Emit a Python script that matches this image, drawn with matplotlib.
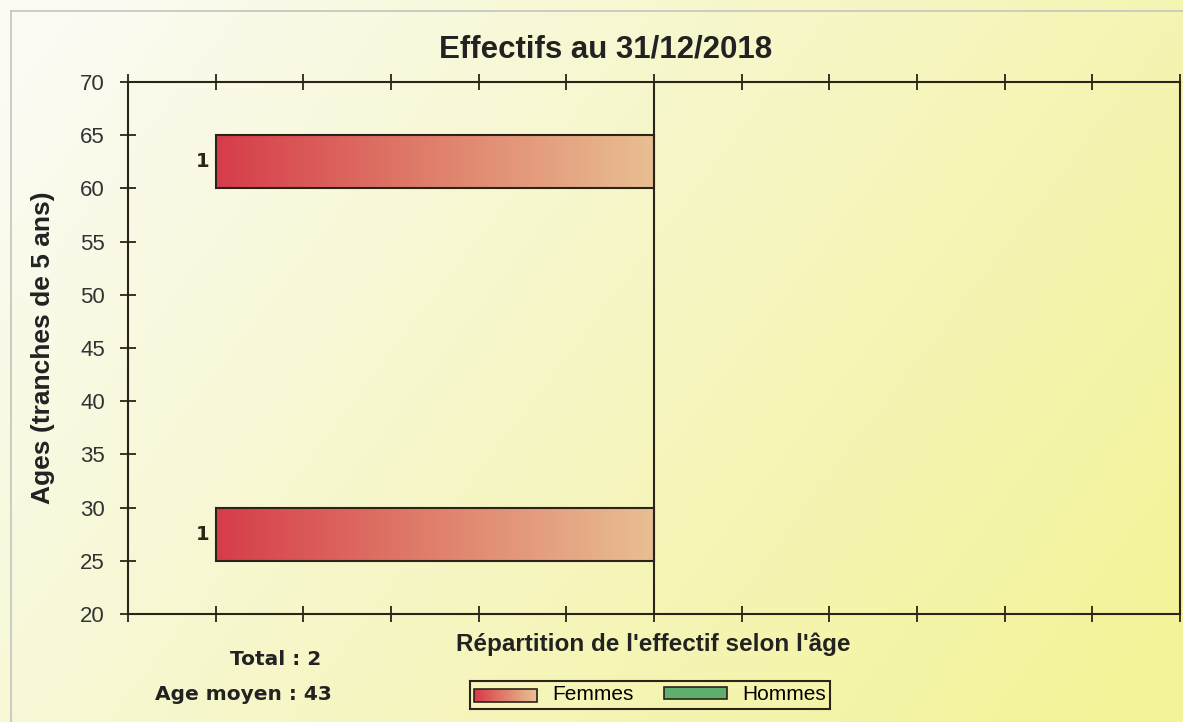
import numpy as np
import matplotlib.pyplot as plt
from matplotlib.patches import Rectangle, Patch
from matplotlib.legend_handler import HandlerBase
from matplotlib.colors import LinearSegmentedColormap

# === Données ===
age_starts = [20, 25, 30, 35, 40, 45, 50, 55, 60, 65]
femmes = [0, 1, 0, 0, 0, 0, 0, 0, 1, 0]
hommes = [0, 0, 0, 0, 0, 0, 0, 0, 0, 0]
x_ticks = [-1.2, -1.0, -0.8, -0.6, -0.4, -0.2, 0.0, 0.2, 0.4, 0.6, 0.8, 1.0, 1.2]
y_ticks = [20, 25, 30, 35, 40, 45, 50, 55, 60, 65, 70]
total = 2
age_moyen = 43

dark = '#2b2418'
cmap_f = LinearSegmentedColormap.from_list('femmes', ['#d63c4a', '#e0806c', '#e9bf92'])
green = '#5fae6e'

fig = plt.figure(figsize=(11.83, 7.22), dpi=100)

# fond dégradé (blanc -> jaune)
bg = fig.add_axes([0, 0, 1, 1], zorder=-10)
gx, gy = np.meshgrid(np.linspace(0, 1, 300), np.linspace(1, 0, 200))
t = np.clip(0.75 * gx + 0.35 * (1 - gy) - 0.05, 0, 1)
cbg = LinearSegmentedColormap.from_list('bg', ['#fbfbf3', '#f6f6c4', '#f3f39a'])
bg.imshow(t, cmap=cbg, aspect='auto', extent=[0, 1, 0, 1], vmin=0, vmax=1)
bg.plot([11 / 1183, 1], [1 - 11 / 722] * 2, color='#c4c4c0', lw=1.2)
bg.plot([11 / 1183] * 2, [0, 1 - 11 / 722], color='#c4c4c0', lw=1.2)
bg.set_xlim(0, 1)
bg.set_ylim(0, 1)
bg.axis('off')

ax = fig.add_axes([128 / 1183, 1 - 614 / 722, 1052 / 1183, 532 / 722])
ax.set_facecolor('none')

# barres femmes (côté gauche, valeurs négatives) avec dégradé
ys = [a for a, f in zip(age_starts, femmes) if f > 0]
ws = [-f for f in femmes if f > 0]
bars = ax.barh(ys, ws, height=5, align='edge', facecolor='none',
               edgecolor=dark, linewidth=1.5, zorder=3)
grad = np.linspace(0, 1, 256).reshape(1, -1)
for b, f in zip(bars, ws):
    x0, y0 = b.get_x(), b.get_y()
    im = ax.imshow(grad, cmap=cmap_f, aspect='auto', zorder=2,
                   extent=[x0 + f, x0, y0, y0 + b.get_height()])
    im.set_clip_path(b)
    ax.text(x0 + f - 0.015, y0 + b.get_height() / 2, str(-f), ha='right', va='center',
            fontsize=14, fontweight='bold', family='DejaVu Sans', color=dark)

# barres hommes (aucune ici)
yh = [a for a, h in zip(age_starts, hommes) if h > 0]
wh = [h for h in hommes if h > 0]
ax.barh(yh, wh, height=5, align='edge', color=green, edgecolor=dark, linewidth=1.5)

ax.axvline(0, color=dark, lw=1.5, zorder=4)
ax.set_xlim(-1.2, 1.2)
ax.set_ylim(20, 70)
ax.set_xticks(x_ticks)
ax.set_xticklabels([])
ax.set_yticks(y_ticks)
ax.set_yticklabels([str(v) for v in y_ticks], fontsize=16, family='Liberation Sans', color='#333')
ax.tick_params(axis='both', direction='inout', length=11, width=1.3, color=dark, top=True)
ax.tick_params(axis='y', pad=11)
for s in ax.spines.values():
    s.set_color(dark)
    s.set_linewidth(1.5)

# textes
fig.text(0.512, 0.932, 'Effectifs au 31/12/2018', ha='center', va='center',
         fontsize=22.5, fontweight='bold', family='Liberation Sans', color='#222')
fig.text(0.036, 0.519, 'Ages (tranches de 5 ans)', ha='center', va='center', rotation=90,
         fontsize=19, fontweight='bold', family='Liberation Sans', color='#222')
fig.text(0.552, 0.107, "Répartition de l'effectif selon l'âge", ha='center', va='center',
         fontsize=17.5, fontweight='bold', family='Liberation Sans', color='#222')
fig.text(0.233, 0.086, f'Total : {total}', ha='center', va='center',
         fontsize=14.5, fontweight='bold', family='DejaVu Sans', color='#222')
fig.text(0.2054, 0.0374, f'Age moyen : {age_moyen}', ha='center', va='center',
         fontsize=14.5, fontweight='bold', family='DejaVu Sans', color='#222')


# légende avec dégradé pour Femmes
class GradientHandler(HandlerBase):
    def create_artists(self, legend, orig, xd, yd, width, height, fontsize, trans):
        arts = []
        n = 30
        for i in range(n):
            r = Rectangle((xd + width * i / n, yd), width / n + 0.5, height,
                          facecolor=cmap_f(i / (n - 1)), edgecolor='none', transform=trans)
            arts.append(r)
        arts.append(Rectangle((xd, yd), width, height, facecolor='none',
                              edgecolor=dark, lw=1.2, transform=trans))
        return arts


h_f = Patch(label='Femmes')
h_h = Patch(facecolor=green, edgecolor=dark, lw=1.2, label='Hommes')
leg = fig.legend(handles=[h_f, h_h], handler_map={h_f: GradientHandler()},
                 loc='center', bbox_to_anchor=(0.5495, 0.0374), ncol=2,
                 prop={'family': 'Liberation Sans', 'size': 15},
                 handlelength=3.0, handleheight=0.55, handletextpad=0.72,
                 columnspacing=1.5, fancybox=False, framealpha=1,
                 borderpad=0.2, borderaxespad=0)
leg.get_frame().set_edgecolor(dark)
leg.get_frame().set_linewidth(1.5)
leg.get_frame().set_facecolor('none')

fig.savefig('out.png', dpi=100)
